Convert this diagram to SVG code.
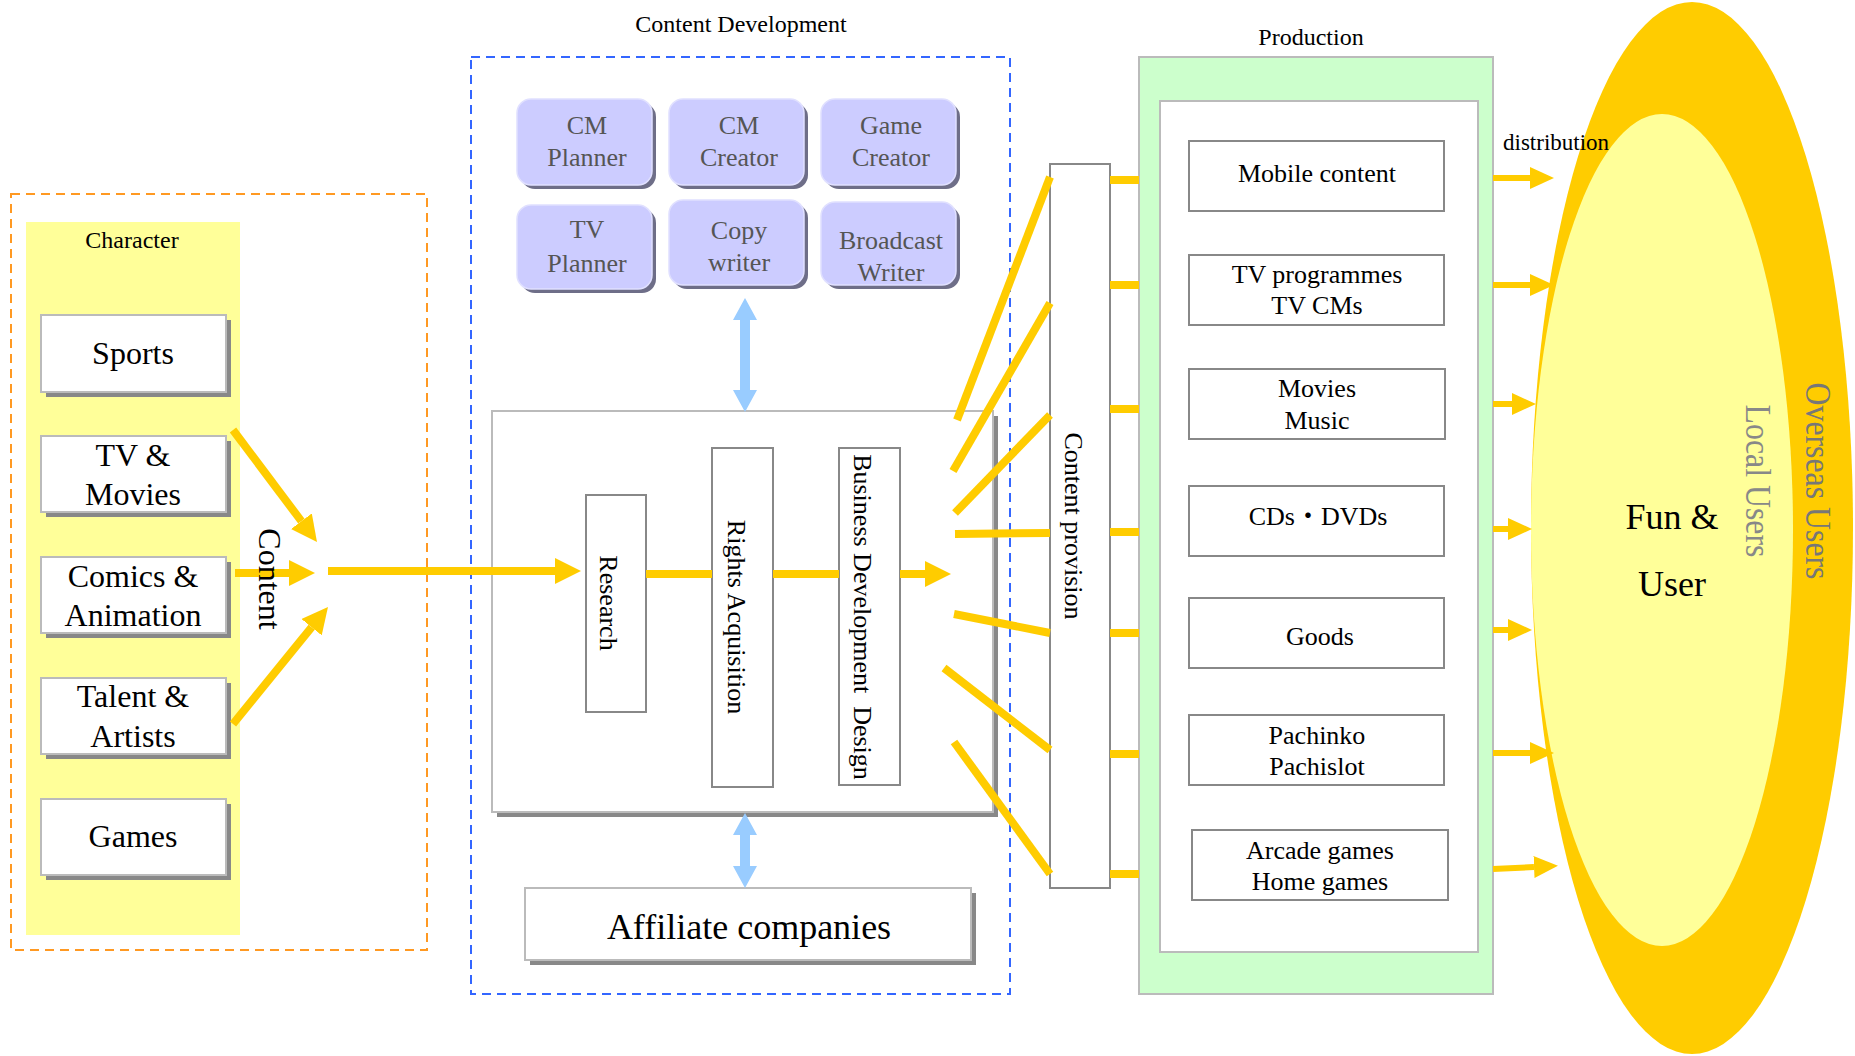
<svg xmlns="http://www.w3.org/2000/svg" width="1855" height="1056" viewBox="0 0 1855 1056">
<defs>
<style>
text{font-family:"Liberation Serif","Times New Roman","Noto Sans CJK JP",serif;fill:#000}
.title{font-size:24px;text-anchor:middle}
.cbox{fill:#fff;stroke:#bbb;stroke-width:2}
.shadow{fill:#888}
.ctext{font-size:32px;text-anchor:middle}
.pbox{fill:#ccccff;stroke:#e0e0ff;stroke-width:1.5}
.pshadow{fill:#6e6e88}
.ptext{font-size:26px;text-anchor:middle;fill:#555}
.gbox{fill:#fff;stroke:#888;stroke-width:2}
.btext{font-size:26px;text-anchor:middle}
.yl{stroke:#ffcc00;stroke-width:8;fill:none}
.yd{stroke:#ffcc00;stroke-width:6;fill:none}
.blue{fill:#99ccff}
</style>
<marker id="ah" markerUnits="userSpaceOnUse" markerWidth="26" markerHeight="26" refX="0" refY="13" orient="auto">
<path d="M0,0 L26,13 L0,26 z" fill="#ffcc00"/>
</marker>
<marker id="ahd" markerUnits="userSpaceOnUse" markerWidth="24" markerHeight="22" refX="0" refY="11" orient="auto">
<path d="M0,0 L24,11 L0,22 z" fill="#ffcc00"/>
</marker>
</defs>
<rect width="1855" height="1056" fill="#fff"/>

<!-- Users ellipses -->
<g id="users">
<ellipse cx="1692" cy="528" rx="161" ry="526" fill="#ffcc00"/>
<ellipse cx="1662" cy="530" rx="131" ry="416" fill="#ffff99"/>
<text x="1672" y="529" font-size="36" text-anchor="middle">Fun &amp;</text>
<text x="1672" y="596" font-size="36" text-anchor="middle">User</text>
<text transform="translate(1757,481) rotate(90)" y="11.5" font-size="35" text-anchor="middle" textLength="153" lengthAdjust="spacingAndGlyphs" style="fill:#888">Local Users</text>
<text transform="translate(1817,481) rotate(90)" y="11.5" font-size="35" text-anchor="middle" textLength="197" lengthAdjust="spacingAndGlyphs" style="fill:#777">Overseas Users</text>
</g>

<!-- Character group -->
<g id="character">
<rect x="11" y="194" width="416" height="756" fill="none" stroke="#ff9922" stroke-width="2" stroke-dasharray="9,6"/>
<rect x="26" y="222" width="214" height="713" fill="#ffff99"/>
<text class="title" x="132" y="248" font-size="23">Character</text>
</g>
<g id="sports">
<rect class="shadow" x="46" y="320" width="185" height="77"/>
<rect class="cbox" x="41" y="315" width="185" height="77"/>
<text class="ctext" x="133" y="364">Sports</text>
</g>
<g id="tv-movies">
<rect class="shadow" x="46" y="441" width="185" height="76"/>
<rect class="cbox" x="41" y="436" width="185" height="76"/>
<text class="ctext" x="133" y="466">TV &amp;</text>
<text class="ctext" x="133" y="505">Movies</text>
</g>
<g id="comics">
<rect class="shadow" x="46" y="562" width="185" height="76"/>
<rect class="cbox" x="41" y="557" width="185" height="76"/>
<text class="ctext" x="133" y="587">Comics &amp;</text>
<text class="ctext" x="133" y="626">Animation</text>
</g>
<g id="talent">
<rect class="shadow" x="46" y="683" width="185" height="76"/>
<rect class="cbox" x="41" y="678" width="185" height="76"/>
<text class="ctext" x="133" y="707">Talent &amp;</text>
<text class="ctext" x="133" y="747">Artists</text>
</g>
<g id="games">
<rect class="shadow" x="46" y="804" width="185" height="76"/>
<rect class="cbox" x="41" y="799" width="185" height="76"/>
<text class="ctext" x="133" y="847">Games</text>
</g>

<!-- Content Development -->
<g id="content-development">
<text class="title" x="741" y="32">Content Development</text>
<rect x="471" y="57" width="539" height="937" fill="none" stroke="#3366ff" stroke-width="2" stroke-dasharray="9,6"/>
</g>
<g id="cm-planner">
<rect class="pshadow" x="521" y="103" width="135" height="86" rx="14"/>
<rect class="pbox" x="517" y="99" width="135" height="86" rx="14"/>
<text class="ptext" x="587" y="134">CM</text>
<text class="ptext" x="587" y="166">Planner</text>
</g>
<g id="cm-creator">
<rect class="pshadow" x="673" y="103" width="135" height="86" rx="14"/>
<rect class="pbox" x="669" y="99" width="135" height="86" rx="14"/>
<text class="ptext" x="739" y="134">CM</text>
<text class="ptext" x="739" y="166">Creator</text>
</g>
<g id="game-creator">
<rect class="pshadow" x="825" y="103" width="135" height="86" rx="14"/>
<rect class="pbox" x="821" y="99" width="135" height="86" rx="14"/>
<text class="ptext" x="891" y="134">Game</text>
<text class="ptext" x="891" y="166">Creator</text>
</g>
<g id="tv-planner">
<rect class="pshadow" x="521" y="209" width="135" height="84" rx="14"/>
<rect class="pbox" x="517" y="205" width="135" height="84" rx="14"/>
<text class="ptext" x="587" y="238">TV</text>
<text class="ptext" x="587" y="272">Planner</text>
</g>
<g id="copy-writer">
<rect class="pshadow" x="673" y="204" width="135" height="85" rx="14"/>
<rect class="pbox" x="669" y="200" width="135" height="85" rx="14"/>
<text class="ptext" x="739" y="239">Copy</text>
<text class="ptext" x="739" y="271">writer</text>
</g>
<g id="broadcast-writer">
<rect class="pshadow" x="825" y="206" width="135" height="83" rx="14"/>
<rect class="pbox" x="821" y="202" width="135" height="83" rx="14"/>
<text class="ptext" x="891" y="249">Broadcast</text>
<text class="ptext" x="891" y="281">Writer</text>
</g>
<g id="process-box">
<rect class="shadow" x="497" y="416" width="501" height="401"/>
<rect class="cbox" x="492" y="411" width="501" height="401"/>
</g>
<g id="research">
<rect class="gbox" x="586" y="495" width="60" height="217"/>
<text transform="translate(609,603) rotate(90)" y="9" font-size="26" text-anchor="middle">Research</text>
</g>
<g id="rights">
<rect class="gbox" x="712" y="448" width="61" height="339"/>
<text transform="translate(742,617) rotate(90)" y="14" font-size="26" text-anchor="middle">Rights Acquisition</text>
</g>
<g id="business">
<rect class="gbox" x="839" y="448" width="61" height="337"/>
<text transform="translate(870,617) rotate(90)" y="16" font-size="26" text-anchor="middle" style="white-space:pre">Business Development  Design</text>
</g>
<g id="affiliate">
<rect class="shadow" x="530" y="893" width="446" height="72"/>
<rect class="cbox" x="525" y="888" width="446" height="72"/>
<text x="749" y="939" font-size="36" text-anchor="middle">Affiliate companies</text>
</g>

<!-- Content provision -->
<g id="content-provision">
<rect class="gbox" x="1050" y="164" width="60" height="724"/>
<text transform="translate(1080,526) rotate(90)" y="15" font-size="26" text-anchor="middle">Content provision</text>
</g>

<!-- Production -->
<g id="production">
<text class="title" x="1311" y="45">Production</text>
<rect x="1139" y="57" width="354" height="937" fill="#ccffcc" stroke="#bbb" stroke-width="2"/>
<rect x="1160" y="101" width="318" height="851" fill="#fff" stroke="#bbb" stroke-width="2"/>
</g>
<g id="mobile">
<rect class="gbox" x="1189" y="141" width="255" height="70"/>
<text class="btext" x="1317" y="182">Mobile content</text>
</g>
<g id="tv-programmes">
<rect class="gbox" x="1189" y="255" width="255" height="70"/>
<text class="btext" x="1317" y="283">TV programmes</text>
<text class="btext" x="1317" y="314">TV CMs</text>
</g>
<g id="movies-music">
<rect class="gbox" x="1189" y="369" width="256" height="70"/>
<text class="btext" x="1317" y="397">Movies</text>
<text class="btext" x="1317" y="429">Music</text>
</g>
<g id="cds-dvds">
<rect class="gbox" x="1189" y="486" width="255" height="70"/>
<text class="btext" x="1318" y="525">CDs・DVDs</text>
</g>
<g id="goods">
<rect class="gbox" x="1189" y="598" width="255" height="70"/>
<text class="btext" x="1320" y="645">Goods</text>
</g>
<g id="pachinko">
<rect class="gbox" x="1189" y="715" width="255" height="70"/>
<text class="btext" x="1317" y="744">Pachinko</text>
<text class="btext" x="1317" y="775">Pachislot</text>
</g>
<g id="arcade">
<rect class="gbox" x="1192" y="830" width="256" height="70"/>
<text class="btext" x="1320" y="859">Arcade games</text>
<text class="btext" x="1320" y="890">Home games</text>
</g>
<g id="distribution-label">
<text x="1503" y="150" font-size="23">distribution</text>
</g>

<!-- Connectors -->
<g id="connectors">
<line class="yl" x1="233" y1="430" x2="301.4" y2="521.2" marker-end="url(#ah)"/>
<line class="yl" x1="235" y1="573" x2="289" y2="573" marker-end="url(#ah)"/>
<line class="yl" x1="233" y1="724" x2="311.6" y2="627.2" marker-end="url(#ah)"/>
<line class="yl" x1="328" y1="571" x2="555" y2="571" marker-end="url(#ah)"/>
<line class="yl" x1="646" y1="574" x2="712" y2="574"/>
<line class="yl" x1="773" y1="574" x2="839" y2="574"/>
<line class="yl" x1="900" y1="574" x2="925" y2="574" marker-end="url(#ah)"/>
<line class="yl" x1="957" y1="420" x2="1050" y2="177"/>
<line class="yl" x1="953" y1="471" x2="1050" y2="303"/>
<line class="yl" x1="955" y1="513" x2="1050" y2="415"/>
<line class="yl" x1="955" y1="534" x2="1050" y2="533"/>
<line class="yl" x1="954" y1="614" x2="1050" y2="633"/>
<line class="yl" x1="944" y1="668" x2="1050" y2="750"/>
<line class="yl" x1="954" y1="742" x2="1050" y2="874"/>
<line class="yl" x1="1110" y1="180" x2="1139" y2="180"/>
<line class="yl" x1="1110" y1="285" x2="1139" y2="285"/>
<line class="yl" x1="1110" y1="409" x2="1139" y2="409"/>
<line class="yl" x1="1110" y1="532" x2="1139" y2="532"/>
<line class="yl" x1="1110" y1="633" x2="1139" y2="633"/>
<line class="yl" x1="1110" y1="754" x2="1139" y2="754"/>
<line class="yl" x1="1110" y1="874" x2="1139" y2="874"/>
<line class="yd" x1="1493" y1="178" x2="1530" y2="178" marker-end="url(#ahd)"/>
<line class="yd" x1="1493" y1="285" x2="1530" y2="285" marker-end="url(#ahd)"/>
<line class="yd" x1="1493" y1="404" x2="1512" y2="404" marker-end="url(#ahd)"/>
<line class="yd" x1="1493" y1="529" x2="1508" y2="529" marker-end="url(#ahd)"/>
<line class="yd" x1="1493" y1="630" x2="1508" y2="630" marker-end="url(#ahd)"/>
<line class="yd" x1="1493" y1="753" x2="1530" y2="753" marker-end="url(#ahd)"/>
<line class="yd" x1="1493" y1="869" x2="1534" y2="867" marker-end="url(#ahd)"/>
<polygon class="blue" points="745,298 757,320 750,320 750,390 757,390 745,412 733,390 740,390 740,320 733,320"/>
<polygon class="blue" points="745,813 757,835 750,835 750,866 757,866 745,888 733,866 740,866 740,835 733,835"/>
</g>

<g id="content-label">
<text transform="translate(267,579) rotate(90)" y="8" font-size="32" text-anchor="middle">Content</text>
</g>
</svg>
